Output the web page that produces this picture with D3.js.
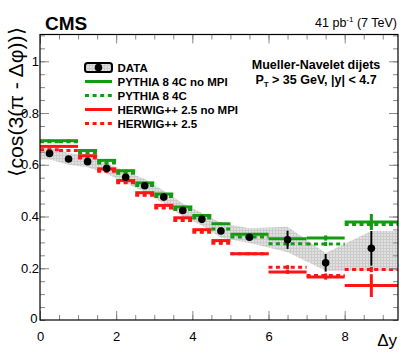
<!DOCTYPE html>
<html>
<head>
<meta charset="utf-8">
<script src="https://cdn.jsdelivr.net/npm/d3@7"></script>
<style>
  body { margin: 0; background: #fff; }
  svg { display: block; font-family: "Liberation Sans", Arial, Helvetica, sans-serif; }
  .axis path { display: none; }
  .axis line { stroke: #888; }
  .axis text { font-size: 13px; fill: #000; }
</style>
</head>
<body>
<div id="chart"></div>
<script>
// bin edges in delta y
var binLo = [0, 0.5, 1, 1.5, 2, 2.5, 3, 3.5, 4, 4.5, 5, 6, 7, 8];
var binHi = [0.5, 1, 1.5, 2, 2.5, 3, 3.5, 4, 4.5, 5, 6, 7, 8, 9.4];
var binCtr = [0.25, 0.75, 1.25, 1.75, 2.25, 2.75, 3.25, 3.75, 4.25, 4.75, 5.5, 6.5, 7.5, 8.7];

// data
var dataVal  = [0.644, 0.622, 0.612, 0.586, 0.552, 0.519, 0.475, 0.423, 0.389, 0.344, 0.320, 0.310, 0.221, 0.277];
var dataStat = [0.003, 0.003, 0.003, 0.003, 0.003, 0.004, 0.004, 0.005, 0.006, 0.007, 0.008, 0.035, 0.034, 0.067];
var sysLo    = [0.620, 0.600, 0.590, 0.565, 0.530, 0.495, 0.450, 0.400, 0.365, 0.318, 0.298, 0.262, 0.190, 0.190];
var sysHi    = [0.665, 0.645, 0.635, 0.607, 0.575, 0.545, 0.500, 0.450, 0.415, 0.375, 0.355, 0.360, 0.259, 0.344];

// models
var pyNoMpi   = [0.693, 0.693, 0.655, 0.617, 0.577, 0.530, 0.487, 0.437, 0.404, 0.372, 0.331, 0.314, 0.317, 0.379];
var pyNoMpiE  = [0.004, 0.004, 0.004, 0.004, 0.004, 0.004, 0.004, 0.004, 0.004, 0.005, 0.005, 0.008, 0.010, 0.031];
var py4C      = [0.689, 0.689, 0.646, 0.607, 0.567, 0.520, 0.477, 0.427, 0.394, 0.352, 0.321, 0.295, 0.294, 0.369];
var py4CE     = [0.004, 0.004, 0.004, 0.004, 0.004, 0.004, 0.004, 0.004, 0.004, 0.005, 0.005, 0.008, 0.008, 0.012];
var hwNoMpi   = [0.671, 0.671, 0.635, 0.584, 0.539, 0.492, 0.443, 0.395, 0.349, 0.307, 0.256, 0.186, 0.166, 0.133];
var hwNoMpiE  = [0.004, 0.004, 0.004, 0.004, 0.004, 0.004, 0.004, 0.004, 0.004, 0.005, 0.005, 0.008, 0.010, 0.044];
var hw25      = [0.658, 0.655, 0.626, 0.575, 0.530, 0.482, 0.433, 0.385, 0.339, 0.297, 0.256, 0.204, 0.172, 0.195];
var hw25E     = [0.004, 0.004, 0.004, 0.004, 0.004, 0.004, 0.004, 0.004, 0.004, 0.005, 0.005, 0.008, 0.008, 0.010];

var xTicks = [0, 2, 4, 6, 8];
var yTicks = [0.2, 0.4, 0.6, 0.8, 1];

var width = 407, height = 356;
var green = "#139a13", red = "#ff1414";

var svg = d3.select("#chart").append("svg")
    .attr("width", width)
    .attr("height", height);

var x = d3.scaleLinear().domain([0, 9.4]).range([40, 398]);
var y = d3.scaleLinear().domain([0, 1.1]).range([320, 35.4]);

// texture for the systematic band
var defs = svg.append("defs");
var pat = defs.append("pattern")
    .attr("id", "sysPat")
    .attr("patternUnits", "userSpaceOnUse")
    .attr("width", 3).attr("height", 3);
pat.append("rect").attr("width", 3).attr("height", 3).attr("fill", "#cbcbcb");
pat.append("rect").attr("width", 2).attr("height", 2).attr("fill", "#e0e0e0");

// band: polygon through bin centres, flat out to the frame edges
var band = binCtr.map((c, i) => ({x: c, lo: sysLo[i], hi: sysHi[i]}));
band.unshift({x: 0, lo: sysLo[0], hi: sysHi[0]});
band.push({x: 9.4, lo: sysLo[sysLo.length - 1], hi: sysHi[sysHi.length - 1]});

svg.append("path")
    .datum(band)
    .attr("fill", "url(#sysPat)")
    .attr("d", d3.area()
        .x(d => x(d.x))
        .y0(d => y(d.lo))
        .y1(d => y(d.hi)));

// model histograms: horizontal bin lines + vertical error at bin centre
function drawModel(vals, errs, color, dash) {
    var g = svg.append("g");
    g.selectAll(".h")
        .data(vals)
        .enter().append("line")
        .attr("x1", (d, i) => x(binLo[i]))
        .attr("x2", (d, i) => x(binHi[i]))
        .attr("y1", d => y(d))
        .attr("y2", d => y(d))
        .attr("stroke", color)
        .attr("stroke-width", 3)
        .attr("stroke-dasharray", dash ? "4,3.4" : null);
    g.selectAll(".v")
        .data(vals)
        .enter().append("line")
        .attr("x1", (d, i) => x(binCtr[i]))
        .attr("x2", (d, i) => x(binCtr[i]))
        .attr("y1", (d, i) => y(d - errs[i]))
        .attr("y2", (d, i) => y(d + errs[i]))
        .attr("stroke", color)
        .attr("stroke-width", 3);
}

drawModel(hw25, hw25E, red, true);
drawModel(hwNoMpi, hwNoMpiE, red, false);
drawModel(py4C, py4CE, green, true);
drawModel(pyNoMpi, pyNoMpiE, green, false);

// data points
var dg = svg.append("g");
dg.selectAll("line")
    .data(dataVal)
    .enter().append("line")
    .attr("x1", (d, i) => x(binCtr[i]))
    .attr("x2", (d, i) => x(binCtr[i]))
    .attr("y1", (d, i) => y(d - dataStat[i]))
    .attr("y2", (d, i) => y(d + dataStat[i]))
    .attr("stroke", "#000")
    .attr("stroke-width", 2);
dg.selectAll("circle")
    .data(dataVal)
    .enter().append("circle")
    .attr("cx", (d, i) => x(binCtr[i]))
    .attr("cy", d => y(d))
    .attr("r", 3.8)
    .attr("fill", "#000");

// axes (ROOT style ticks pointing inwards)
var xMinor = d3.range(0, 9.41, 0.5);
var yMinor = d3.range(0, 1.101, 0.05);

svg.append("g").attr("class", "axis")
    .attr("transform", "translate(0,320)")
    .call(d3.axisBottom(x).tickValues(xMinor).tickSize(-5).tickFormat(""));
svg.append("g").attr("class", "axis")
    .attr("transform", "translate(0,320)")
    .call(d3.axisBottom(x).tickValues(xTicks).tickSize(-9).tickPadding(12).tickFormat(d3.format("d")));
svg.append("g").attr("class", "axis")
    .attr("transform", "translate(0,34.5)")
    .call(d3.axisTop(x).tickValues(xMinor).tickSize(-5).tickFormat(""));
svg.append("g").attr("class", "axis")
    .attr("transform", "translate(0,34.5)")
    .call(d3.axisTop(x).tickValues(xTicks).tickSize(-9).tickFormat(""));

svg.append("g").attr("class", "axis")
    .attr("transform", "translate(40,0)")
    .call(d3.axisLeft(y).tickValues(yMinor).tickSize(-5).tickFormat(""));
svg.append("g").attr("class", "axis")
    .attr("transform", "translate(40,0)")
    .call(d3.axisLeft(y).tickValues(yTicks).tickSize(-9).tickPadding(1).tickFormat(d => d === 1 ? "1" : d3.format(".1f")(d)));
svg.append("g").attr("class", "axis")
    .attr("transform", "translate(398,0)")
    .call(d3.axisRight(y).tickValues(yMinor).tickSize(-5).tickFormat(""));
svg.append("g").attr("class", "axis")
    .attr("transform", "translate(398,0)")
    .call(d3.axisRight(y).tickValues(yTicks).tickSize(-9).tickFormat(""));

// y "0" label sits left/below like ROOT
svg.append("text")
    .attr("x", 37.5).attr("y", 323)
    .attr("text-anchor", "end")
    .style("font-size", "13px")
    .text("0");

// frame
svg.append("rect")
    .attr("x", 40).attr("y", 34.5)
    .attr("width", 358).attr("height", 285.5)
    .attr("fill", "none")
    .attr("stroke", "#000")
    .attr("stroke-width", 1.2);

// titles
svg.append("text")
    .attr("x", 45).attr("y", 29.5)
    .style("font-size", "19px").style("font-weight", "bold")
    .text("CMS");

var lumi = svg.append("text")
    .attr("x", 397).attr("y", 27)
    .attr("text-anchor", "end")
    .style("font-size", "12.5px");
lumi.append("tspan").text("41 pb");
lumi.append("tspan").attr("dy", -5).style("font-size", "8px").text("-1");
lumi.append("tspan").attr("dy", 5).text(" (7 TeV)");

svg.append("text")
    .attr("x", 397).attr("y", 346)
    .attr("text-anchor", "end")
    .style("font-size", "17px")
    .text("Δy");

svg.append("text")
    .attr("transform", "translate(23,27) rotate(-90)")
    .attr("text-anchor", "end")
    .attr("textLength", 150)
    .attr("lengthAdjust", "spacingAndGlyphs")
    .style("font-size", "20px")
    .text("⟨cos(3(π - Δφ))⟩");

svg.append("text")
    .attr("x", 316).attr("y", 68.5)
    .attr("text-anchor", "middle")
    .style("font-size", "12.5px").style("font-weight", "bold")
    .text("Mueller-Navelet dijets");

var pt = svg.append("text")
    .attr("x", 316).attr("y", 84)
    .attr("text-anchor", "middle")
    .style("font-size", "12.5px").style("font-weight", "bold");
pt.append("tspan").text("P");
pt.append("tspan").attr("dy", 3).style("font-size", "8px").text("T");
pt.append("tspan").attr("dy", -3).text(" > 35 GeV, |y| < 4.7");

// legend
var legItems = [
    {label: "DATA", type: "data"},
    {label: "PYTHIA 8 4C no MPI", color: green, dash: false},
    {label: "PYTHIA 8 4C", color: green, dash: true},
    {label: "HERWIG++ 2.5 no MPI", color: red, dash: false},
    {label: "HERWIG++ 2.5", color: red, dash: true}
];

var leg = svg.append("g");
legItems.forEach((it, i) => {
    var cy = 67.5 + i * 14;
    if (it.type === "data") {
        leg.append("rect")
            .attr("x", 85).attr("y", cy - 4.5)
            .attr("width", 27).attr("height", 9)
            .attr("rx", 2.5)
            .attr("fill", "url(#sysPat)")
            .attr("stroke", "#000").attr("stroke-width", 2);
        leg.append("circle")
            .attr("cx", 98.5).attr("cy", cy).attr("r", 3.8)
            .attr("fill", "#000");
    } else {
        leg.append("line")
            .attr("x1", 85).attr("x2", 112)
            .attr("y1", cy).attr("y2", cy)
            .attr("stroke", it.color).attr("stroke-width", 3)
            .attr("stroke-dasharray", it.dash ? "4,3.6" : null);
    }
    leg.append("text")
        .attr("x", 117.5).attr("y", cy + 4)
        .style("font-size", "11.5px").style("font-weight", "bold")
        .text(it.label);
});
</script>
</body>
</html>
